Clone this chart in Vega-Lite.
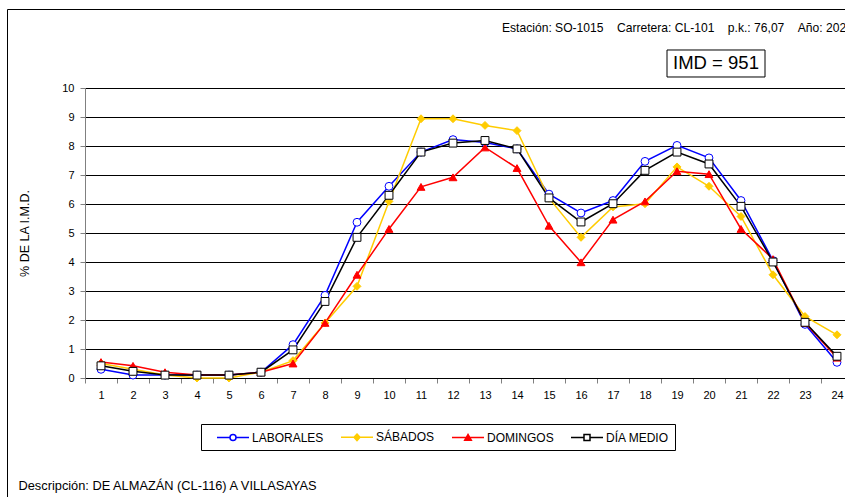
{
  "$schema": "https://vega.github.io/schema/vega-lite/v6.json",
  "width": 900,
  "height": 500,
  "autosize": {"type": "none"},
  "padding": {"left": 7, "top": 9, "right": 0, "bottom": 0},
  "background": "white",
  "config": {
    "font": "Liberation Sans",
    "view": {"stroke": "black", "strokeWidth": 1},
    "axis": {
      "labelFont": "Liberation Sans",
      "labelFontSize": 11,
      "labelColor": "black",
      "titleFont": "Liberation Sans",
      "titleFontSize": 12.5,
      "titleFontWeight": "normal",
      "titleColor": "black"
    }
  },
  "title": {
    "text": "Estación: SO-1015\u00a0\u00a0\u00a0\u00a0Carretera: CL-101\u00a0\u00a0\u00a0\u00a0p.k.: 76,07\u00a0\u00a0\u00a0\u00a0Año: 2023",
    "anchor": "start",
    "frame": "group",
    "font": "Liberation Sans",
    "fontSize": 12.1,
    "fontWeight": "normal",
    "color": "black",
    "baseline": "alphabetic",
    "offset": 0,
    "dx": 495,
    "dy": 35
  },
  "data": {
    "values": [
      {"serie": "LABORALES", "hora": 1, "pct": 0.3}, {"serie": "LABORALES", "hora": 2, "pct": 0.1}, {"serie": "LABORALES", "hora": 3, "pct": 0.1}, {"serie": "LABORALES", "hora": 4, "pct": 0.1}, {"serie": "LABORALES", "hora": 5, "pct": 0.1}, {"serie": "LABORALES", "hora": 6, "pct": 0.2}, {"serie": "LABORALES", "hora": 7, "pct": 1.15}, {"serie": "LABORALES", "hora": 8, "pct": 2.85}, {"serie": "LABORALES", "hora": 9, "pct": 5.37}, {"serie": "LABORALES", "hora": 10, "pct": 6.61}, {"serie": "LABORALES", "hora": 11, "pct": 7.79}, {"serie": "LABORALES", "hora": 12, "pct": 8.22}, {"serie": "LABORALES", "hora": 13, "pct": 8.12}, {"serie": "LABORALES", "hora": 14, "pct": 7.9}, {"serie": "LABORALES", "hora": 15, "pct": 6.34}, {"serie": "LABORALES", "hora": 16, "pct": 5.69}, {"serie": "LABORALES", "hora": 17, "pct": 6.12}, {"serie": "LABORALES", "hora": 18, "pct": 7.47}, {"serie": "LABORALES", "hora": 19, "pct": 8.02}, {"serie": "LABORALES", "hora": 20, "pct": 7.59}, {"serie": "LABORALES", "hora": 21, "pct": 6.12}, {"serie": "LABORALES", "hora": 22, "pct": 4.05}, {"serie": "LABORALES", "hora": 23, "pct": 1.85}, {"serie": "LABORALES", "hora": 24, "pct": 0.54},
      {"serie": "SÁBADOS", "hora": 1, "pct": 0.5}, {"serie": "SÁBADOS", "hora": 2, "pct": 0.3}, {"serie": "SÁBADOS", "hora": 3, "pct": 0.1}, {"serie": "SÁBADOS", "hora": 4, "pct": 0.0}, {"serie": "SÁBADOS", "hora": 5, "pct": 0.0}, {"serie": "SÁBADOS", "hora": 6, "pct": 0.2}, {"serie": "SÁBADOS", "hora": 7, "pct": 0.6}, {"serie": "SÁBADOS", "hora": 8, "pct": 1.9}, {"serie": "SÁBADOS", "hora": 9, "pct": 3.16}, {"serie": "SÁBADOS", "hora": 10, "pct": 6.09}, {"serie": "SÁBADOS", "hora": 11, "pct": 8.94}, {"serie": "SÁBADOS", "hora": 12, "pct": 8.94}, {"serie": "SÁBADOS", "hora": 13, "pct": 8.71}, {"serie": "SÁBADOS", "hora": 14, "pct": 8.53}, {"serie": "SÁBADOS", "hora": 15, "pct": 6.2}, {"serie": "SÁBADOS", "hora": 16, "pct": 4.85}, {"serie": "SÁBADOS", "hora": 17, "pct": 5.9}, {"serie": "SÁBADOS", "hora": 18, "pct": 6.01}, {"serie": "SÁBADOS", "hora": 19, "pct": 7.28}, {"serie": "SÁBADOS", "hora": 20, "pct": 6.61}, {"serie": "SÁBADOS", "hora": 21, "pct": 5.57}, {"serie": "SÁBADOS", "hora": 22, "pct": 3.56}, {"serie": "SÁBADOS", "hora": 23, "pct": 2.12}, {"serie": "SÁBADOS", "hora": 24, "pct": 1.49},
      {"serie": "DOMINGOS", "hora": 1, "pct": 0.55}, {"serie": "DOMINGOS", "hora": 2, "pct": 0.42}, {"serie": "DOMINGOS", "hora": 3, "pct": 0.2}, {"serie": "DOMINGOS", "hora": 4, "pct": 0.1}, {"serie": "DOMINGOS", "hora": 5, "pct": 0.1}, {"serie": "DOMINGOS", "hora": 6, "pct": 0.2}, {"serie": "DOMINGOS", "hora": 7, "pct": 0.5}, {"serie": "DOMINGOS", "hora": 8, "pct": 1.9}, {"serie": "DOMINGOS", "hora": 9, "pct": 3.56}, {"serie": "DOMINGOS", "hora": 10, "pct": 5.14}, {"serie": "DOMINGOS", "hora": 11, "pct": 6.59}, {"serie": "DOMINGOS", "hora": 12, "pct": 6.92}, {"serie": "DOMINGOS", "hora": 13, "pct": 7.95}, {"serie": "DOMINGOS", "hora": 14, "pct": 7.24}, {"serie": "DOMINGOS", "hora": 15, "pct": 5.25}, {"serie": "DOMINGOS", "hora": 16, "pct": 3.99}, {"serie": "DOMINGOS", "hora": 17, "pct": 5.46}, {"serie": "DOMINGOS", "hora": 18, "pct": 6.09}, {"serie": "DOMINGOS", "hora": 19, "pct": 7.13}, {"serie": "DOMINGOS", "hora": 20, "pct": 7.03}, {"serie": "DOMINGOS", "hora": 21, "pct": 5.14}, {"serie": "DOMINGOS", "hora": 22, "pct": 4.1}, {"serie": "DOMINGOS", "hora": 23, "pct": 1.9}, {"serie": "DOMINGOS", "hora": 24, "pct": 0.7},
      {"serie": "DÍA MEDIO", "hora": 1, "pct": 0.42}, {"serie": "DÍA MEDIO", "hora": 2, "pct": 0.23}, {"serie": "DÍA MEDIO", "hora": 3, "pct": 0.1}, {"serie": "DÍA MEDIO", "hora": 4, "pct": 0.1}, {"serie": "DÍA MEDIO", "hora": 5, "pct": 0.1}, {"serie": "DÍA MEDIO", "hora": 6, "pct": 0.2}, {"serie": "DÍA MEDIO", "hora": 7, "pct": 0.97}, {"serie": "DÍA MEDIO", "hora": 8, "pct": 2.64}, {"serie": "DÍA MEDIO", "hora": 9, "pct": 4.85}, {"serie": "DÍA MEDIO", "hora": 10, "pct": 6.3}, {"serie": "DÍA MEDIO", "hora": 11, "pct": 7.79}, {"serie": "DÍA MEDIO", "hora": 12, "pct": 8.1}, {"serie": "DÍA MEDIO", "hora": 13, "pct": 8.19}, {"serie": "DÍA MEDIO", "hora": 14, "pct": 7.9}, {"serie": "DÍA MEDIO", "hora": 15, "pct": 6.21}, {"serie": "DÍA MEDIO", "hora": 16, "pct": 5.38}, {"serie": "DÍA MEDIO", "hora": 17, "pct": 6.01}, {"serie": "DÍA MEDIO", "hora": 18, "pct": 7.16}, {"serie": "DÍA MEDIO", "hora": 19, "pct": 7.79}, {"serie": "DÍA MEDIO", "hora": 20, "pct": 7.38}, {"serie": "DÍA MEDIO", "hora": 21, "pct": 5.92}, {"serie": "DÍA MEDIO", "hora": 22, "pct": 4.0}, {"serie": "DÍA MEDIO", "hora": 23, "pct": 1.92}, {"serie": "DÍA MEDIO", "hora": 24, "pct": 0.75}
    ]
  },
  "resolve": {"scale": {"shape": "independent", "fill": "independent", "stroke": "independent"}},
  "layer": [
    {
      "mark": {"type": "line", "strokeWidth": 1.5},
      "encoding": {
        "x": {
          "field": "hora",
          "type": "ordinal",
          "scale": {"type": "band", "domain": [1,2,3,4,5,6,7,8,9,10,11,12,13,14,15,16,17,18,19,20,21,22,23,24], "range": [78, 846], "paddingInner": 0, "paddingOuter": 0},
          "axis": {
            "offset": -131,
            "tickBand": "extent",
            "domainColor": "black",
            "tickColor": "#808080",
            "tickSize": 5,
            "labelPadding": 6,
            "labelAngle": 0,
            "grid": false,
            "title": "Descripción: DE ALMAZÁN (CL-116) A VILLASAYAS",
            "titleFontSize": 12.8,
            "titleX": 11,
            "titleY": 111,
            "titleAnchor": "start",
            "titleAlign": "left",
            "titleBaseline": "alphabetic"
          }
        },
        "y": {
          "field": "pct",
          "type": "quantitative",
          "scale": {"domain": [0, 10], "range": [369, 79], "nice": false, "zero": false},
          "axis": {
            "offset": -78,
            "values": [0,1,2,3,4,5,6,7,8,9,10],
            "grid": true,
            "gridColor": "black",
            "gridWidth": 1,
            "gridOpacity": 1,
            "domainColor": "#808080",
            "tickColor": "#808080",
            "tickSize": 5,
            "labelPadding": 6,
            "title": "% DE LA I.M.D.",
            "titlePadding": 30
          }
        },
        "color": {
          "field": "serie",
          "type": "nominal",
          "scale": {"domain": ["DÍA MEDIO", "DOMINGOS", "SÁBADOS", "LABORALES"], "range": ["#000000", "#FF0000", "#FFCC00", "#0000FF"]},
          "legend": null
        }
      }
    },
    {
      "mark": {"type": "point", "filled": true, "opacity": 1, "fillOpacity": 1, "strokeWidth": 1, "size": 62},
      "encoding": {
        "x": {"field": "hora", "type": "ordinal"},
        "y": {"field": "pct", "type": "quantitative"},
        "stroke": {
          "field": "serie",
          "type": "nominal",
          "scale": {"domain": ["LABORALES", "SÁBADOS", "DOMINGOS", "DÍA MEDIO"], "range": ["#0000FF", "#FFCC00", "#FF0000", "#000000"]},
          "legend": null
        },
        "fill": {
          "field": "serie",
          "type": "nominal",
          "scale": {"domain": ["SÁBADOS", "LABORALES", "DOMINGOS", "DÍA MEDIO"], "range": ["#FFCC00", "#FFFFFF", "#FF0000", "#FFFFFF"]},
          "legend": null
        },
        "shape": {
          "field": "serie",
          "type": "nominal",
          "scale": {"domain": ["LABORALES", "DOMINGOS", "SÁBADOS", "DÍA MEDIO"], "range": ["circle", "triangle-up", "diamond", "square"]},
          "legend": null
        }
      }
    },
    {
      "transform": [{"filter": "false"}],
      "mark": {"type": "point", "filled": true, "strokeWidth": 1.5, "size": 0},
      "encoding": {
        "x": {"field": "hora", "type": "ordinal"},
        "y": {"field": "pct", "type": "quantitative"},
        "stroke": {
          "field": "serie",
          "type": "nominal",
          "scale": {"domain": ["LABORALES", "SÁBADOS", "DOMINGOS", "DÍA MEDIO"], "range": ["#0000FF", "#FFCC00", "#FF0000", "#000000"]},
          "legend": {
            "orient": "none", "legendX": 194, "legendY": 415, "direction": "horizontal", "title": null,
            "strokeColor": "black", "padding": 6, "symbolSize": 144, "symbolStrokeWidth": 1.5, "symbolOpacity": 1,
            "labelFont": "Liberation Sans", "labelFontSize": 12, "labelColor": "black",
            "columnPadding": 7, "labelOffset": 12, "symbolOffset": 19
          }
        },
        "fill": {
          "field": "serie",
          "type": "nominal",
          "scale": {"domain": ["LABORALES", "SÁBADOS", "DOMINGOS", "DÍA MEDIO"], "range": ["#FFFFFF", "#FFCC00", "#FF0000", "#FFFFFF"]},
          "legend": {
            "orient": "none", "legendX": 194, "legendY": 415, "direction": "horizontal", "title": null,
            "strokeColor": "black", "padding": 6, "symbolSize": 144, "symbolStrokeWidth": 1.5, "symbolOpacity": 1,
            "labelFont": "Liberation Sans", "labelFontSize": 12, "labelColor": "black",
            "columnPadding": 7, "labelOffset": 12, "symbolOffset": 19
          }
        },
        "shape": {
          "field": "serie",
          "type": "nominal",
          "scale": {"domain": ["LABORALES", "SÁBADOS", "DOMINGOS", "DÍA MEDIO"], "range": [
            "M-2.667,0H-0.5M0.5,0H2.667M-0.5,0A0.5,0.5 0 1,0 0.5,0A0.5,0.5 0 1,0 -0.5,0Z",
            "M-2.667,0H2.667M0,-0.55L0.5,0L0,0.55L-0.5,0Z",
            "M-2.667,0H2.667M0,-0.5L0.55,0.45L-0.55,0.45Z",
            "M-2.667,0H-0.5M0.5,0H2.667M-0.5,-0.5H0.5V0.5H-0.5Z"
          ]},
          "legend": {
            "orient": "none", "legendX": 194, "legendY": 415, "direction": "horizontal", "title": null,
            "strokeColor": "black", "padding": 6, "symbolSize": 144, "symbolStrokeWidth": 1.5, "symbolOpacity": 1,
            "labelFont": "Liberation Sans", "labelFontSize": 12, "labelColor": "black",
            "columnPadding": 7, "labelOffset": 12, "symbolOffset": 19
          }
        }
      }
    },
    {
      "data": {"values": [{"t": "IMD = 951"}]},
      "mark": {"type": "point", "shape": "M-1,-0.2755H1V0.2755H-1Z", "size": 9604, "filled": true, "fill": "white", "stroke": "black", "strokeWidth": 1, "opacity": 1, "xOffset": 7},
      "encoding": {
        "x": {"datum": 20, "type": "ordinal"},
        "y": {"datum": 10.845, "type": "quantitative"}
      }
    },
    {
      "data": {"values": [{"t": "IMD = 951"}]},
      "mark": {"type": "text", "font": "Liberation Sans", "fontSize": 18.5, "color": "black", "baseline": "middle", "align": "center", "xOffset": 7},
      "encoding": {
        "x": {"datum": 20, "type": "ordinal"},
        "y": {"datum": 10.845, "type": "quantitative"},
        "text": {"field": "t"}
      }
    }
  ]
}
